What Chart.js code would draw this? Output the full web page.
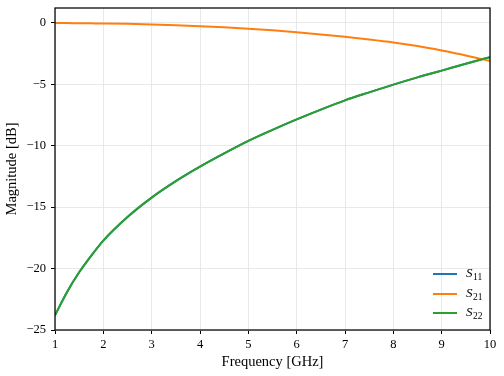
<!DOCTYPE html>
<html><head><meta charset="utf-8">
<script src="https://cdn.jsdelivr.net/npm/chart.js@4/dist/chart.umd.min.js"></script>
<style>html,body{margin:0;padding:0;background:#fff;}#wrap{width:504px;height:376px;}</style>
</head><body><div id="wrap"><canvas id="c" width="504" height="376"></canvas></div>
<script>
const freqGHz = [1, 1.25, 1.5, 1.75, 2, 2.5, 3, 3.5, 4, 4.5, 5, 5.5, 6, 6.5, 7, 7.5, 8, 8.5, 9, 9.5, 10];
const s11 = [-23.8, -21.9, -20.3, -18.95, -17.72, -15.8, -14.22, -12.88, -11.7, -10.62, -9.6, -8.7, -7.85, -7.05, -6.3, -5.65, -5.02, -4.43, -3.88, -3.32, -2.78];
const s21 = [0, -0.01, -0.02, -0.03, -0.04, -0.07, -0.12, -0.18, -0.26, -0.35, -0.46, -0.59, -0.75, -0.93, -1.13, -1.34, -1.58, -1.88, -2.24, -2.64, -3.1];
const s22 = [-23.8, -21.9, -20.3, -18.95, -17.72, -15.8, -14.22, -12.88, -11.7, -10.62, -9.6, -8.7, -7.85, -7.05, -6.3, -5.65, -5.02, -4.43, -3.88, -3.32, -2.78];
const seriesNames = ['S11', 'S21', 'S22'];
const seriesSubs = ['11', '21', '22'];
const colors = ['#1f77b4', '#ff7f0e', '#2ca02c'];
const xTicks = [1,2,3,4,5,6,7,8,9,10];
const yTicks = [-25,-20,-15,-10,-5,0];

const FONT = "'Liberation Serif', 'DejaVu Serif', serif";
const pts = arr => freqGHz.map((f,i)=>({x:f, y:arr[i]}));
const allSeries = [s11, s21, s22];

const legendPlugin = {
  id: 'inlegend',
  afterDraw(chart) {
    const ctx = chart.ctx, a = chart.chartArea;
    ctx.save();
    ctx.strokeStyle = '#000'; ctx.lineWidth = 1.25;
    ctx.strokeRect(a.left, a.top, a.right - a.left, a.bottom - a.top);
    const x0 = a.right - 57, x1 = a.right - 33, tx = a.right - 24;
    const ys = [a.bottom - 56, a.bottom - 36, a.bottom - 17];
    seriesNames.forEach((n, i) => {
      ctx.strokeStyle = colors[i]; ctx.lineWidth = 2;
      ctx.beginPath(); ctx.moveTo(x0, ys[i]); ctx.lineTo(x1, ys[i]); ctx.stroke();
      ctx.fillStyle = '#000';
      ctx.textBaseline = 'middle'; ctx.textAlign = 'left';
      ctx.font = "italic 13px " + FONT;
      ctx.fillText('S', tx, ys[i]);
      const w = ctx.measureText('S').width;
      ctx.font = "9.5px " + FONT;
      ctx.fillText(seriesSubs[i], tx + w + 0.5, ys[i] + 3);
    });
    ctx.restore();
  }
};

const gridCommon = {
  color: '#e3e3e3', lineWidth: 0.8, borderDash: [3, 2],
  drawTicks: true, tickLength: 4, tickColor: '#000', tickWidth: 1, tickBorderDash: []
};

new Chart(document.getElementById('c'), {
  type: 'line',
  data: {
    datasets: seriesNames.map((n, i) => ({
      label: n,
      data: pts(allSeries[i]),
      borderColor: colors[i],
      backgroundColor: colors[i],
      borderWidth: 2,
      pointRadius: 0,
      cubicInterpolationMode: 'monotone',
      fill: false,
      order: 2 - i
    }))
  },
  options: {
    responsive: false,
    animation: false,
    devicePixelRatio: 1,
    layout: { padding: { top: 8, right: 14, left: 0, bottom: 0 } },
    plugins: { legend: { display: false }, tooltip: { enabled: false } },
    scales: {
      x: {
        type: 'linear', min: 1, max: 10,
        afterFit(s) { s.height = 46; s.paddingLeft = 0; s.paddingRight = 0; },
        afterBuildTicks(s) { s.ticks = xTicks.map(v => ({value: v})); },
        ticks: { color: '#000', font: { family: FONT, size: 12.5 }, padding: 3, maxRotation: 0 },
        grid: gridCommon,
        border: { display: false },
        title: { display: true, text: 'Frequency [GHz]', color: '#000', font: { family: FONT, size: 14.5 }, padding: { top: 0, bottom: 5 } }
      },
      y: {
        type: 'linear', min: -25, max: 1.22,
        afterFit(s) { s.width = 55; s.paddingTop = 0; s.paddingBottom = 0; },
        afterBuildTicks(s) { s.ticks = yTicks.map(v => ({value: v})); },
        ticks: { color: '#000', font: { family: FONT, size: 12.5 }, padding: 5,
          callback: v => v < 0 ? '\u2212' + Math.abs(v) : String(v) },
        grid: gridCommon,
        border: { display: false },
        title: { display: true, text: 'Magnitude [dB]', color: '#000', font: { family: FONT, size: 14.5 }, padding: { top: 3, bottom: 0 } }
      }
    }
  },
  plugins: [legendPlugin]
});
</script></body></html>
